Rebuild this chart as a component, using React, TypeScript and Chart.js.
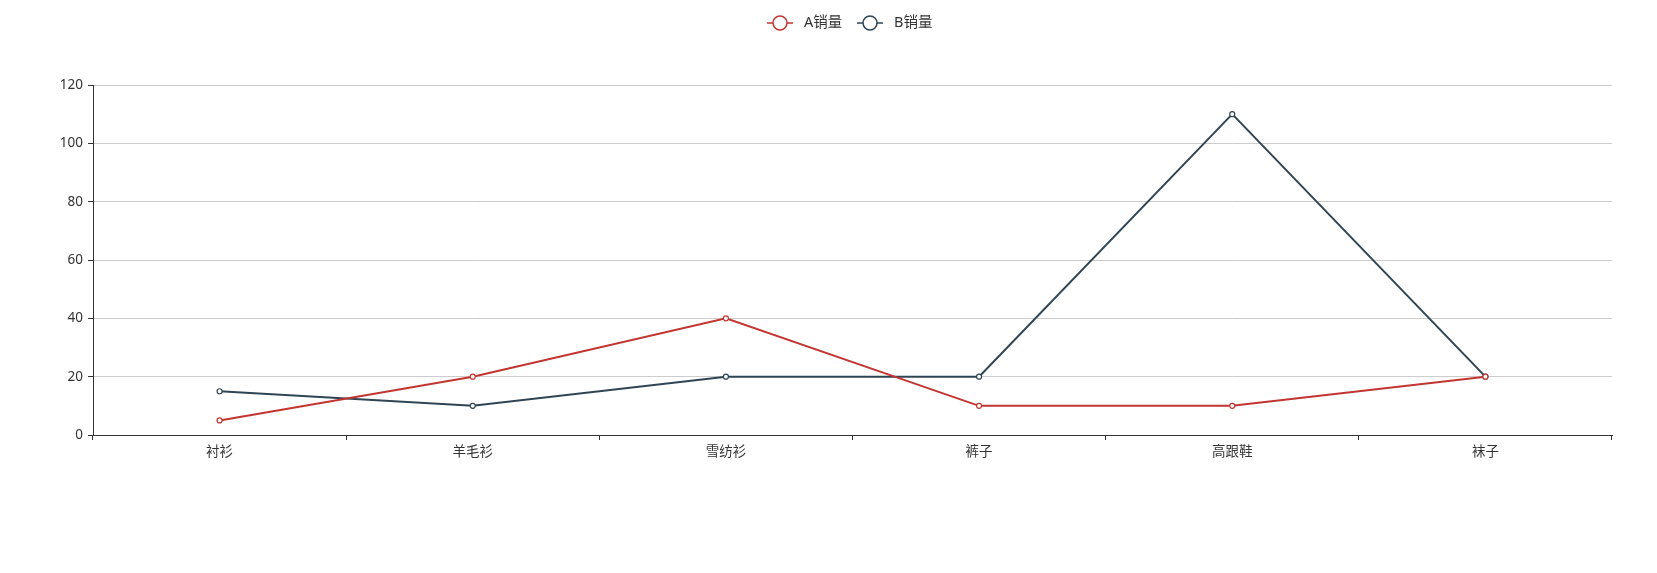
import React, { useEffect, useRef } from "react";
import { Chart, registerables } from "chart.js";

Chart.register(...registerables);

const categories = ["衬衫", "羊毛衫", "雪纺衫", "裤子", "高跟鞋", "袜子"];
const salesA = [5, 20, 40, 10, 10, 20];
const salesB = [15, 10, 20, 20, 110, 20];
const seriesNames = ["A销量", "B销量"];
const seriesColors = ["#c23531", "#2f4554"];

const W = 1657;
const H = 573;
const FONT = "'Noto Sans', 'Noto Sans CJK SC', sans-serif";

const legendPlugin = {
  id: "echartsLegend",
  afterDraw(chart: any) {
    const ctx = chart.ctx;
    ctx.save();
    ctx.font = `14.5px ${FONT}`;
    const iconW = 26;
    const gapText = 11;
    const starts = [767, 857];
    const cy = 23;
    seriesNames.forEach((name, i) => {
      const x = starts[i];
      const c = seriesColors[i];
      ctx.strokeStyle = c;
      ctx.lineWidth = 1.5;
      ctx.beginPath();
      ctx.moveTo(x, cy);
      ctx.lineTo(x + iconW, cy);
      ctx.stroke();
      ctx.beginPath();
      ctx.arc(x + iconW / 2, cy, 7, 0, Math.PI * 2);
      ctx.fillStyle = "#fff";
      ctx.fill();
      ctx.lineWidth = 1.5;
      ctx.stroke();
      ctx.fillStyle = "#333";
      ctx.textAlign = "left";
      ctx.textBaseline = "middle";
      ctx.fillText(name, x + iconW + gapText, cy);
    });
    ctx.restore();
  },
};

export default function App() {
  const ref = useRef<HTMLCanvasElement | null>(null);
  useEffect(() => {
    document.body.style.margin = "0";
    const canvas = ref.current!;
    const chart = new Chart(canvas, {
      type: "line",
      data: {
        labels: categories,
        datasets: [salesA, salesB].map((d, i) => ({
          label: seriesNames[i],
          data: d,
          borderColor: seriesColors[i],
          backgroundColor: seriesColors[i],
          borderWidth: 2,
          pointRadius: 2.5,
          pointBorderWidth: 1.2,
          pointBackgroundColor: "#fff",
          pointBorderColor: seriesColors[i],
          tension: 0,
        })),
      },
      options: {
        animation: false,
        responsive: false,
        devicePixelRatio: 1,
        layout: { padding: { left: 0, top: 85, right: 45, bottom: 0 } },
        plugins: {
          legend: { display: false },
          tooltip: { enabled: false },
        },
        scales: {
          x: {
            type: "category",
            offset: true,
            afterFit: (s: any) => {
              s.height = 138;
            },
            grid: {
              display: true,
              drawOnChartArea: false,
              drawTicks: true,
              tickLength: 5,
              offset: true,
              color: "#333",
              tickColor: "#333",
            },
            border: { display: true, color: "#333", width: 1 },
            ticks: {
              color: "#333",
              font: { family: FONT, size: 13.5 },
              padding: 4,
              maxRotation: 0,
              autoSkip: false,
            },
          },
          y: {
            min: 0,
            max: 120,
            afterFit: (s: any) => {
              s.width = 93;
            },
            grid: {
              color: "#ccc",
              tickColor: "#333",
              tickLength: 5,
              drawTicks: true,
            },
            border: { display: true, color: "#333", width: 1 },
            ticks: {
              stepSize: 20,
              color: "#333",
              font: { family: FONT, size: 13.5 },
              padding: 5,
            },
          },
        },
      },
      plugins: [legendPlugin],
    } as any);
    return () => chart.destroy();
  }, []);
  return (
    <div style={{ position: "absolute", left: 0, top: 0, width: W, height: H }}>
      <canvas ref={ref} width={W} height={H} style={{ width: W, height: H }} />
    </div>
  );
}
